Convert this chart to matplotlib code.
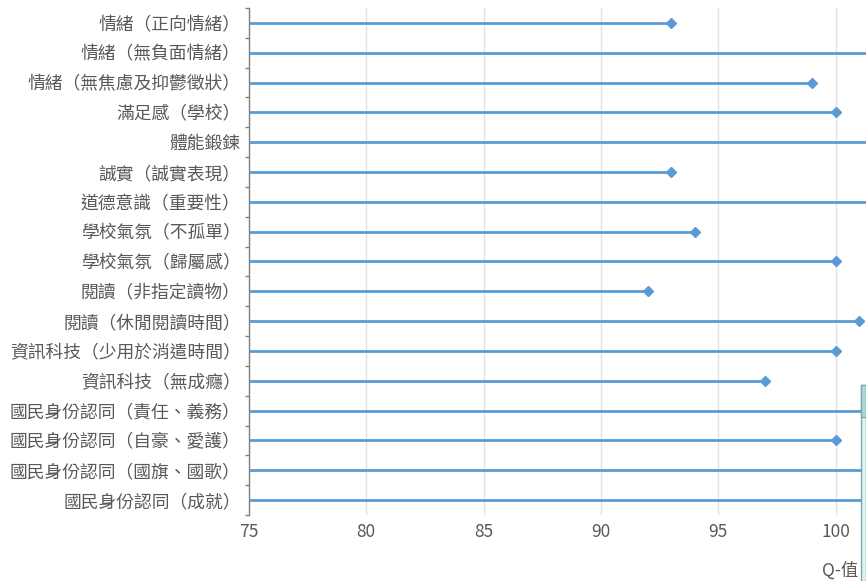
import numpy as np
import matplotlib.pyplot as plt
from matplotlib.patches import Rectangle

plt.rcParams['font.family'] = ['Noto Sans CJK TC', 'DejaVu Sans']

# categories (top to bottom) and Q-values
categories = [
    "情緒（正向情緒）",
    "情緒（無負面情緒）",
    "情緒（無焦慮及抑鬱徵狀）",
    "滿足感（學校）",
    "體能鍛鍊",
    "誠實（誠實表現）",
    "道德意識（重要性）",
    "學校氣氛（不孤單）",
    "學校氣氛（歸屬感）",
    "閱讀（非指定讀物）",
    "閱讀（休閒閱讀時間）",
    "資訊科技（少用於消遣時間）",
    "資訊科技（無成癮）",
    "國民身份認同（責任、義務）",
    "國民身份認同（自豪、愛護）",
    "國民身份認同（國旗、國歌）",
    "國民身份認同（成就）",
]
# values past the right edge are cut off in the screenshot (estimated)
q_values = [93, 104, 99, 100, 104, 93, 104, 94, 100, 92, 101, 100, 97, 104, 100, 104, 104]
x_ticks = [75, 80, 85, 90, 95, 100]

blue = '#5B9BD5'
grey = '#595959'

fig = plt.figure(figsize=(8.66, 5.81), dpi=100)
ax = fig.add_axes([249 / 866, 1 - 515 / 581, 1 - 249 / 866, (515 - 8) / 581])

y = np.arange(len(categories))
ax.hlines(y, 75, q_values, color=blue, linewidth=2, zorder=3)
ax.plot(q_values, y, linestyle='none', marker='D', markersize=5.5,
        color=blue, zorder=4)

ax.set_xlim(75, 101.3)
ax.set_ylim(len(categories) - 0.5, -0.5)

ax.set_xticks(x_ticks)
ax.set_xticklabels([str(t) for t in x_ticks])
ax.set_yticks(y)
ax.set_yticklabels(categories)
ax.set_yticks(np.arange(len(categories) + 1) - 0.5, minor=True)

ax.tick_params(axis='y', which='major', length=0, pad=6, labelsize=12.8,
               labelcolor=grey)
ax.tick_params(axis='y', which='minor', length=3, color='#7f7f7f', width=1)
ax.tick_params(axis='x', length=0, pad=6, labelsize=12.5, labelcolor=grey)

ax.grid(axis='x', color='#e3e3e3', linewidth=1, zorder=0)
for s in ['top', 'right', 'bottom']:
    ax.spines[s].set_visible(False)
ax.spines['left'].set_color('#7f7f7f')
ax.spines['left'].set_linewidth(1)

fig.text(858 / 866, 1 - 571 / 581, "Q-值", ha='right', va='center',
         fontsize=12.5, color=grey)

# bit of the overlapping table at the bottom right edge
fig.patches.append(Rectangle((861 / 866, 0), 5 / 866, (581 - 385) / 581,
                             transform=fig.transFigure, facecolor='#dff1f1',
                             edgecolor='#7fa9a9', linewidth=1, zorder=5))
fig.patches.append(Rectangle((861 / 866, 1 - 417 / 581), 5 / 866, 32 / 581,
                             transform=fig.transFigure, facecolor='#a9d8d8',
                             edgecolor='#7fa9a9', linewidth=1, zorder=6))

fig.savefig("out.png", dpi=100)
